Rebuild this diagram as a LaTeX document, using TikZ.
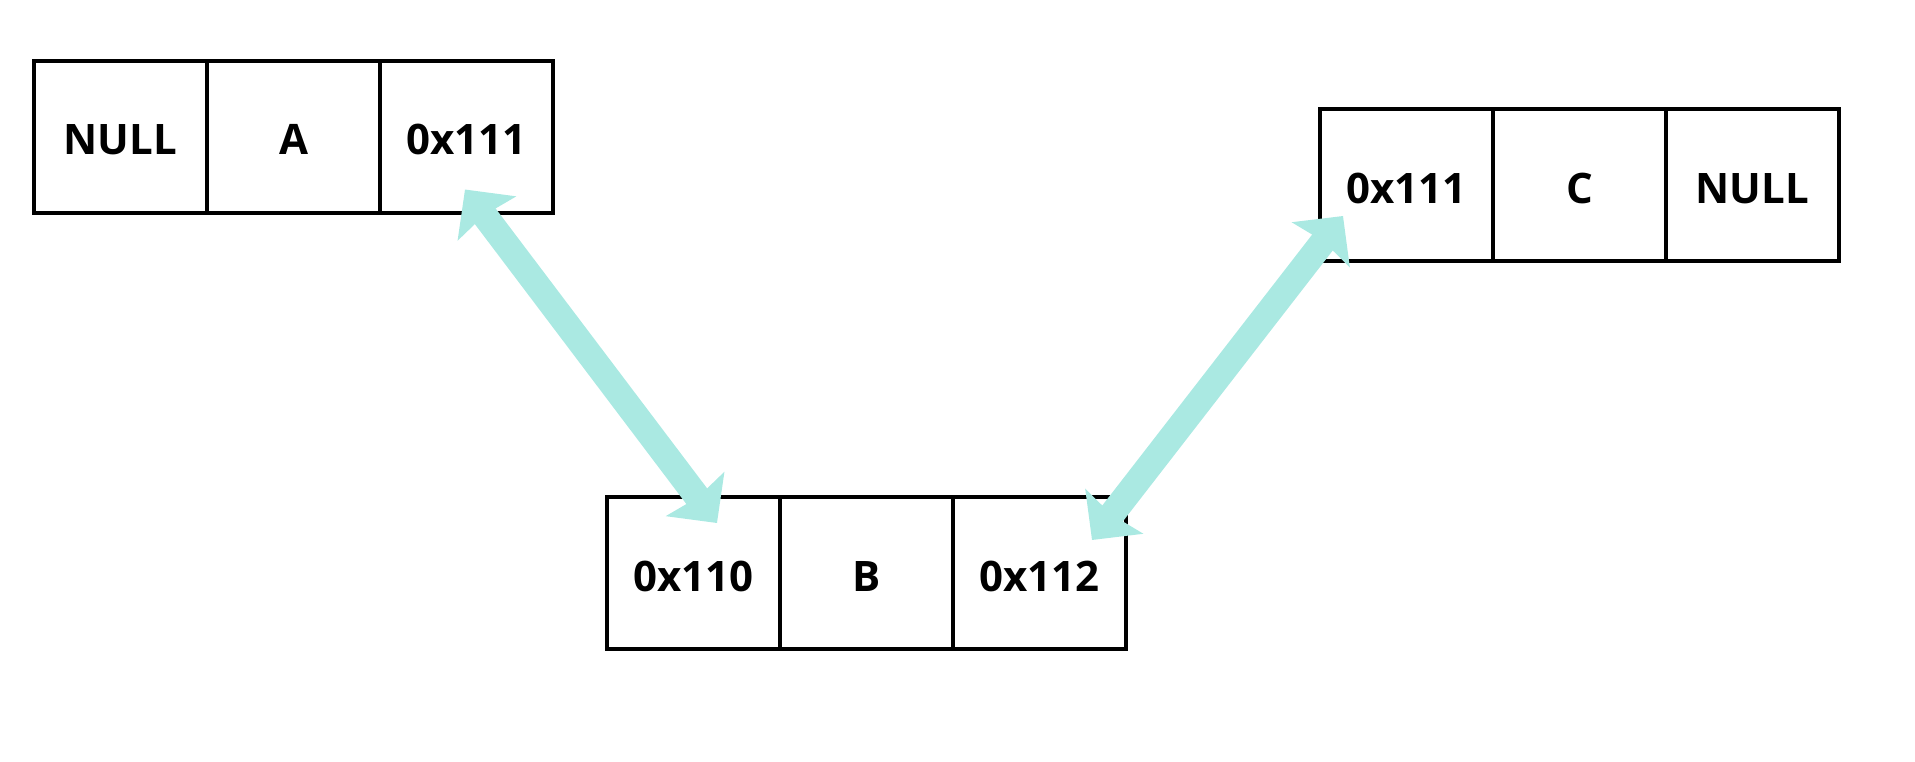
\documentclass[tikz,border=0pt]{standalone}
\usepackage{fontspec}
\setmainfont{Open Sans}
\usetikzlibrary{positioning,arrows.meta}
\definecolor{linkcol}{RGB}{170,233,226}
\begin{document}
\begin{tikzpicture}[x=1pt,y=-1pt,
	cell/.style={draw, line width=4pt, minimum width=173pt, minimum height=152pt,
		inner sep=0pt, outer sep=0pt, text height=36pt, text depth=-4pt,
		font=\fontsize{42}{50}\selectfont\bfseries},
	link/.style={draw=linkcol, line width=26pt,
		{Stealth[length=36pt,width=72pt,inset=4pt]}-{Stealth[length=36pt,width=72pt,inset=4pt]}}]
\useasboundingbox (0,0) rectangle (1915,761);
% node A
\node[cell] (a1) at (120.5,136.5) {NULL};
\node[cell, right=0pt of a1] (a2) {A};
\node[cell, right=0pt of a2] (a3) {0x111};
% node B
\node[cell] (b1) at (693.5,573) {0x110};
\node[cell, right=0pt of b1] (b2) {B};
\node[cell, right=0pt of b2] (b3) {0x112};
% node C
\node[cell] (c1) at (1406.5,185) {0x111};
\node[cell, right=0pt of c1] (c2) {C};
\node[cell, right=0pt of c2] (c3) {NULL};
\draw[link] ([shift={(85,-23)}]a3.south west) -- ([shift={(-63,26)}]b1.north east);
\draw[link] ([shift={(23,-45)}]c1.south west) -- ([shift={(-34,43)}]b3.north east);
\end{tikzpicture}
\end{document}
